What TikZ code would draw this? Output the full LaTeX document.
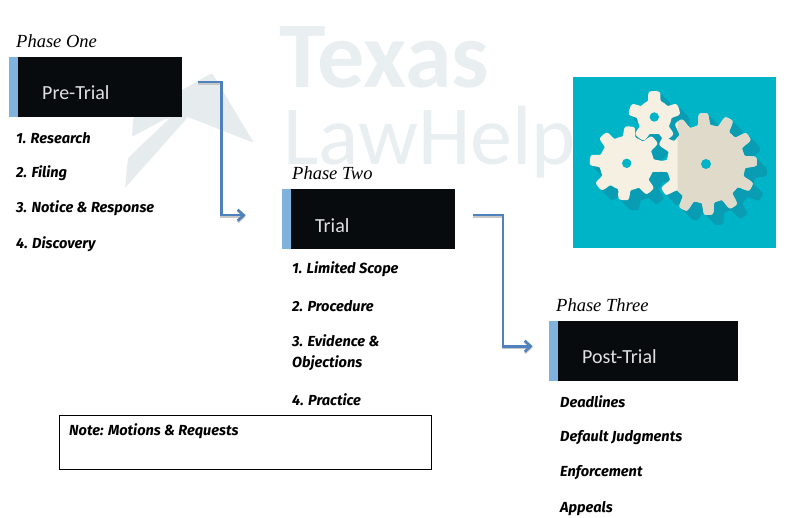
\documentclass[tikz,border=0pt]{standalone}
\usepackage{fontspec}
\usetikzlibrary{arrows.meta}
\setmainfont{Carlito}
\newfontfamily\listfont{Fira Sans}
\newfontfamily\phasefont{Liberation Serif}
\newfontfamily\markfont{Carlito}
\definecolor{wm}{HTML}{E9EEF1}
\definecolor{wmplane}{HTML}{E6EBEE}
\definecolor{ink}{HTML}{070B0E}
\definecolor{sideblue}{HTML}{7FB2DD}
\definecolor{arrowblue}{HTML}{4F81BD}
\definecolor{teal}{HTML}{00B4C8}
\definecolor{tealdark}{HTML}{0A9CB2}
\definecolor{gearlight}{HTML}{F5F0E1}
\definecolor{geardark}{HTML}{E0DACB}
\tikzset{
  blackbox/.style={draw=none,fill=ink,minimum height=60pt,inner sep=0pt,anchor=north west},
  sidebar/.style={draw=none,fill=sideblue,minimum height=60pt,minimum width=9pt,inner sep=0pt,anchor=north east},
  boxlabel/.style={text=white!88!black,anchor=west,inner sep=0pt,font=\fontsize{20}{22}\selectfont},
  phaselabel/.style={anchor=west,inner sep=0pt,font=\phasefont\itshape\fontsize{18.5}{20}\selectfont},
  itemlabel/.style={anchor=west,inner sep=0pt,yshift=-0.6pt,font=\listfont\bfseries\itshape\fontsize{14.6}{16}\selectfont},
  flow/.style={draw=arrowblue,line width=2.6pt,-{Straight Barb[length=6pt,width=11pt,line width=2.6pt]}},
  flowshadow/.style={draw=black!22,line width=2.2pt,-{Straight Barb[length=6pt,width=11pt,line width=2.2pt]}},
  wmtext/.style={text=wm,anchor=base west,inner sep=0pt}
}
\newcommand{\gearpath}[6]{% cx cy outer root teeth phase
  plot[samples=360,domain=0:359,variable=\t]
   ({#1+(#4+(#3-#4)*(0.5+0.5*tanh(3.2*(cos(#5*(\t-#6))-0.12))))*cos(\t)},
    {#2-(#4+(#3-#4)*(0.5+0.5*tanh(3.2*(cos(#5*(\t-#6))-0.12))))*sin(\t)}) -- cycle}
\begin{document}
\begin{tikzpicture}[x=1pt,y=-1pt]
\useasboundingbox (0,0) rectangle (791,518);
% watermark
\fill[wmplane,rounded corners=1.5pt] (212,73) -- (254,143) -- (188,117) -- (165,119) -- (132,137) -- (133,118) -- cycle;
\fill[wmplane,rounded corners=1pt] (188,117) -- (172,116) -- (128,158) -- (125,188) -- cycle;
\node[wmtext,font=\markfont\bfseries\fontsize{94}{94}\selectfont] (wmone) at (279,88) {Texas};
\node[wmtext,font=\markfont\fontsize{84}{84}\selectfont] (wmtwo) at (283,165) {LawHelp};
% gear panel
\fill[teal] (573,77) rectangle (776,248);
\begin{scope}
\clip (573,77) rectangle (776,248);
\foreach \d in {2,4,6,8,10}{
 \fill[tealdark] \gearpath{654.3+\d}{117+\d}{26}{17}{5}{90};
 \fill[tealdark] \gearpath{626.7+\d}{163.3+\d}{37}{27}{8}{85};
 \fill[tealdark] \gearpath{706+\d}{164+\d}{51}{39}{12}{3};
}
\fill[gearlight] \gearpath{654.3}{117}{26}{17}{5}{90};
\fill[gearlight] \gearpath{626.7}{163.3}{37}{27}{8}{85};
\fill[gearlight] \gearpath{706}{164}{51}{39}{12}{3};
\begin{scope}
\clip (677.7,77) rectangle (776,248);
\fill[geardark] \gearpath{706}{164}{51}{39}{12}{3};
\end{scope}
\fill[teal] (654.3,117) circle (4.7);
\fill[teal] (626.7,163.3) circle (4.7);
\fill[teal] (706,164) circle (5);
\end{scope}
% boxes
\node[blackbox,minimum width=164pt] (pre) at (18,56.5) {};
\node[sidebar] (prebar) at (pre.north west) {};
\node[blackbox,minimum width=164pt] (trial) at (291,189) {};
\node[sidebar] (trialbar) at (trial.north west) {};
\node[blackbox,minimum width=180pt] (post) at (558,320.5) {};
\node[sidebar] (postbar) at (post.north west) {};
\node[boxlabel] (prelab) at (42,92.5) {Pre-Trial};
\node[boxlabel] (triallab) at (315,225.5) {Trial};
\node[boxlabel] (postlab) at (582,356.5) {Post-Trial};
% phase titles
\node[phaselabel] (ph1) at (16,41) {Phase One};
\node[phaselabel] (ph2) at (292,173) {Phase Two};
\node[phaselabel] (ph3) at (556,305) {Phase Three};
% lists
\node[itemlabel] (a1) at (16,137) {1. Research};
\node[itemlabel] (a2) at (16,173) {2. Filing};
\node[itemlabel] (a3) at (16,208) {3. Notice \& Response};
\node[itemlabel] (a4) at (16,244) {4. Discovery};
\node[itemlabel] (b1) at (292,269) {1. Limited Scope};
\node[itemlabel] (b2) at (292,305) {2. Procedure};
\node[itemlabel] (b3) at (292,340) {3. Evidence \&};
\node[itemlabel] (b3b) at (292,363) {Objections};
\node[itemlabel] (b4) at (292,399) {4. Practice};
\node[itemlabel] (c1) at (560,401) {Deadlines};
\node[itemlabel] (c2) at (560,437) {Default Judgments};
\node[itemlabel] (c3) at (560,472) {Enforcement};
\node[itemlabel] (c4) at (560,508) {Appeals};
% note
\node[draw=black,line width=0.9pt,minimum width=372.5pt,minimum height=53.5pt,inner sep=0pt,anchor=north west] (note) at (58.5,415.2) {};
\node[itemlabel] (notetext) at (69,431) {Note: Motions \& Requests};
% connectors
\coordinate (s1) at ([shift={(16,-4.5)}]pre.east);
\coordinate (e1) at ([shift={(-36,-4)}]trialbar.west);
\coordinate (m1) at (221.5,150);
\coordinate (s2) at ([shift={(18,-4)}]trial.east);
\coordinate (e2) at ([shift={(-16,-4.5)}]postbar.west);
\coordinate (m2) at (503,280);
\draw[flowshadow] ([shift={(0,1.5)}]s1) -- ([shift={(0,1.5)}]s1 -| m1) -- ([shift={(0,1.5)}]m1 |- e1) -- ([shift={(0,1.5)}]e1);
\draw[flowshadow] ([shift={(0,1.5)}]s2) -- ([shift={(0,1.5)}]s2 -| m2) -- ([shift={(0,1.5)}]m2 |- e2) -- ([shift={(0,1.5)}]e2);
\draw[flow] (s1) -- (s1 -| m1) -- (m1 |- e1) -- (e1);
\draw[flow] (s2) -- (s2 -| m2) -- (m2 |- e2) -- (e2);
\end{tikzpicture}
\end{document}
